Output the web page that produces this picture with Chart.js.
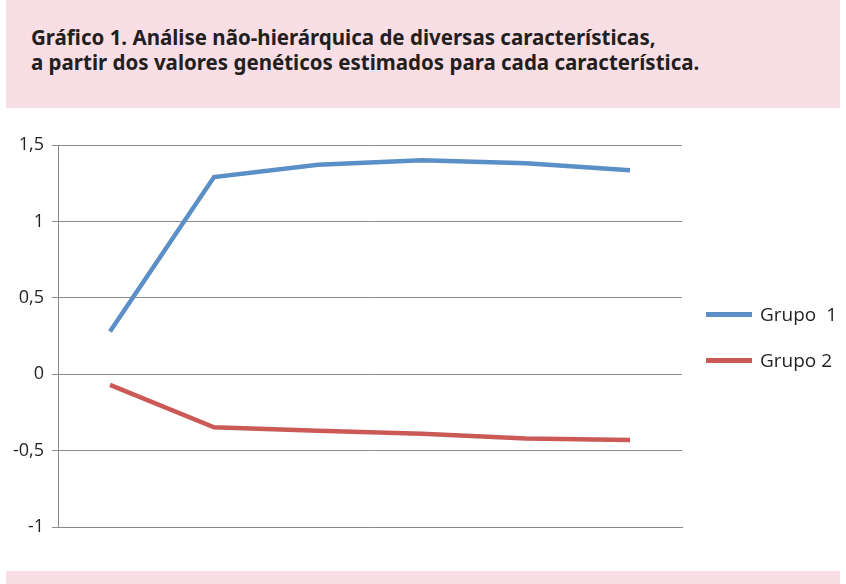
<!DOCTYPE html>
<html><head><meta charset="utf-8">
<script src="https://cdn.jsdelivr.net/npm/chart.js@4"></script>
<style>
body{margin:0;width:846px;height:584px;background:#fff;position:relative;overflow:hidden;font-family:"Open Sans",sans-serif;}
#hdr{position:absolute;left:6px;top:0;width:834px;height:108px;background:#f9dee6;}
#hdr div{position:absolute;left:25px;top:25px;font-size:20.5px;font-weight:bold;line-height:25px;color:#231f20;letter-spacing:0;font-family:"Noto Sans",sans-serif;}
#ftr{position:absolute;left:6px;top:571px;width:834px;height:13px;background:#f9dee6;}
#wrap{position:absolute;left:0;top:110px;width:846px;height:460px;}
.lg{position:absolute;left:706px;font-size:19px;color:#231f20;display:flex;align-items:center;}
.lg span{display:inline-block;width:46px;height:5px;margin-right:8px;}
</style></head><body>
<div id="hdr"><div>Gráfico 1. Análise não-hierárquica de diversas características,<br>a partir dos valores genéticos estimados para cada característica.</div></div>
<div id="wrap"><canvas id="c"></canvas></div>
<div id="ftr"></div>
<div class="lg" style="top:301px"><span style="background:#5b8fc7"></span>Grupo&nbsp; 1</div>
<div class="lg" style="top:347px"><span style="background:#cb5a57"></span>Grupo 2</div>
<script>
const categories=["1","2","3","4","5","6"];
const grupo1=[0.28,1.29,1.37,1.40,1.38,1.335];
const grupo2=[-0.07,-0.347,-0.37,-0.39,-0.42,-0.43];
const yTicks=[1.5,1,0.5,0,-0.5,-1];
new Chart(document.getElementById('c'),{type:'line',
data:{labels:categories,datasets:[
{label:'Grupo 1',data:grupo1,borderColor:'#5b8fc7',borderWidth:4.5,pointRadius:0,tension:0},
{label:'Grupo 2',data:grupo2,borderColor:'#cb5a57',borderWidth:4.5,pointRadius:0,tension:0}]},
options:{responsive:true,maintainAspectRatio:false,animation:false,
layout:{padding:{top:35,right:164,bottom:35,left:0}},
plugins:{legend:{display:false},tooltip:{enabled:false}},
scales:{
x:{offset:true,ticks:{display:false},grid:{display:false},border:{color:'#888',width:1}},
y:{min:-1,max:1.5,afterBuildTicks:a=>{a.ticks=yTicks.map(v=>({value:v}));},
afterFit:a=>{a.width=58;},
ticks:{color:'#231f20',font:{size:18,family:'"Open Sans"'},padding:8,callback:v=>String(v).replace('.',',')},
grid:{color:'#8c8c8c',lineWidth:1,tickLength:6},border:{color:'#888'}}}}});
</script></body></html>
